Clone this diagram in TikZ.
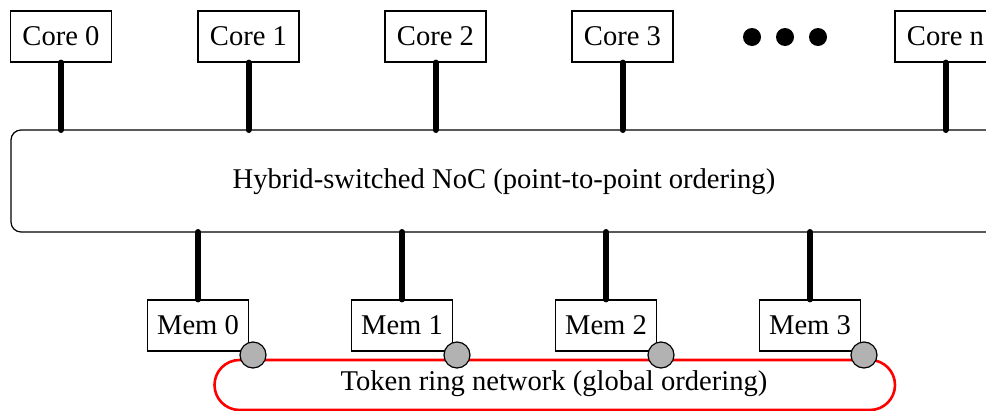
\documentclass[tikz,border=0pt]{standalone}
\usepackage{fontspec}
\setmainfont{Liberation Serif}
\begin{document}
\begin{tikzpicture}[x=1pt,y=-1pt,
  unitbox/.style={draw,line width=1.2pt,minimum width=101pt,minimum height=51pt,inner sep=0pt,font=\fontsize{28.6}{32}\selectfont},
  link/.style={line width=6pt,line cap=round},
  port/.style={circle,draw,line width=1.2pt,fill=gray!60,minimum size=26pt,inner sep=0pt},
  dotmark/.style={circle,fill=black,minimum size=18pt,inner sep=0pt}]
\useasboundingbox (0,0) rectangle (986,410);
\def\bodyfont{\fontsize{28.6}{32}\selectfont}

% cores
\node[unitbox] (c0) at (61,36.5) {Core 0};
\node[unitbox] (c1) at (248.5,36.5) {Core 1};
\node[unitbox] (c2) at (435.5,36.5) {Core 2};
\node[unitbox] (c3) at (622.5,36.5) {Core 3};
\node[unitbox] (cn) at (945.5,36.5) {Core n};
\node[dotmark] (d1) at (752,37) {};
\node[dotmark] (d2) at (785,37) {};
\node[dotmark] (d3) at (818,37) {};

% network on chip
\draw[line width=1.2pt,rounded corners=10pt] (11,130) rectangle (997,232);
\coordinate (nocN) at (0,130);
\coordinate (nocS) at (0,232);
\node[font=\bodyfont] (noc) at (504,182) {Hybrid-switched NoC (point-to-point ordering)};

% memories
\node[unitbox] (m0) at (198,325.5) {Mem 0};
\node[unitbox] (m1) at (402,325.5) {Mem 1};
\node[unitbox] (m2) at (606,325.5) {Mem 2};
\node[unitbox] (m3) at (810,325.5) {Mem 3};

% links
\foreach \n in {c0,c1,c2,c3,cn}
  \draw[link] (\n.south) -- (\n.south |- nocN);
\foreach \n in {m0,m1,m2,m3}
  \draw[link] (\n.north) -- (\n.north |- nocS);

% token ring
\draw[red,line width=2.6pt,rounded corners=25pt] (214.5,360) rectangle (895,410);
\node[font=\bodyfont] (ring) at (554,384) {Token ring network (global ordering)};
\node[port] (t0) at (253,355) {};
\node[port] (t1) at (457,355) {};
\node[port] (t2) at (661,355) {};
\node[port] (t3) at (864,355) {};
\end{tikzpicture}
\end{document}
